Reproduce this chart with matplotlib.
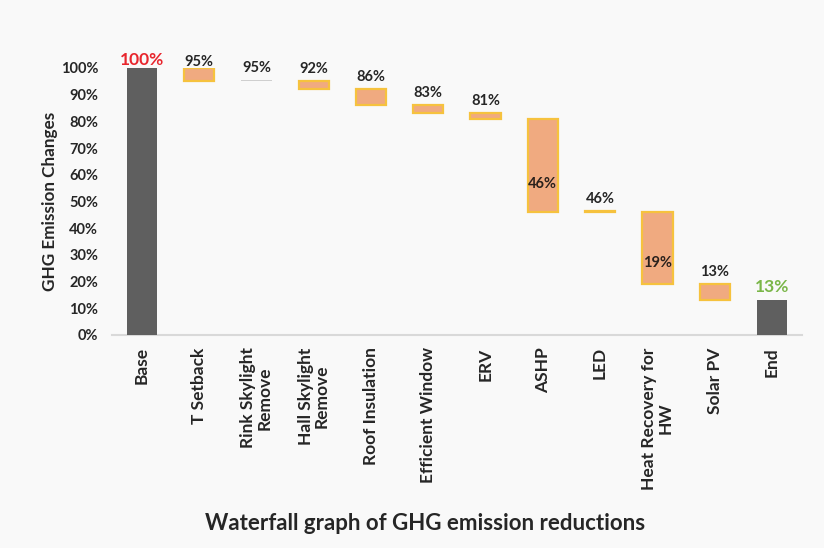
import matplotlib.pyplot as plt
import numpy as np

plt.rcParams['font.family'] = ['Lato', 'DejaVu Sans']

# data
categories = ['Base', 'T Setback', 'Rink Skylight\nRemove', 'Hall Skylight\nRemove',
              'Roof Insulation', 'Efficient Window', 'ERV', 'ASHP', 'LED',
              'Heat Recovery for\nHW', 'Solar PV', 'End']
start_vals = [0, 100, 95.3, 95, 92, 86, 83, 81, 46.3, 46, 19, 0]
end_vals = [100, 95, 95, 92, 86, 83, 81, 46, 46, 19, 13, 13]
labels = ['100%', '95%', '95%', '92%', '86%', '83%', '81%', '46%', '46%', '19%', '13%', '13%']

x = np.arange(len(categories))
bar_w = 0.53

fig = plt.figure(figsize=(8.24, 5.48), dpi=100, facecolor='#f9f9f9')
ax = fig.add_axes([0.136, 0.389, 0.837, 0.487])
ax.set_facecolor('#f9f9f9')

for i in x:
    lo, hi = min(start_vals[i], end_vals[i]), max(start_vals[i], end_vals[i])
    if i == 0 or i == len(x) - 1:
        ax.bar(i, hi - lo, bottom=lo, width=bar_w, color='#5f5f5f', zorder=3)
    elif i == 2:
        ax.bar(i, hi - lo, bottom=lo, width=bar_w, color='#cfcfcf', zorder=3)
    else:
        ax.bar(i, hi - lo, bottom=lo, width=bar_w, color='#f0aa80',
               edgecolor='#f6c23e', linewidth=1.6, zorder=3)

    # labels
    if i in (7, 9):
        ax.text(i, lo + 0.3 * (hi - lo), labels[i], ha='center', va='center',
                fontsize=10.5, fontweight='bold', color='#2a211c', zorder=4)
    elif i == 0:
        ax.annotate(labels[i], (i, hi), xytext=(0, 0), textcoords='offset points',
                    ha='center', va='bottom', fontsize=12.5, fontweight='bold',
                    color='#e8262d', annotation_clip=False)
    elif i == len(x) - 1:
        ax.annotate(labels[i], (i, hi), xytext=(0, 4), textcoords='offset points',
                    ha='center', va='bottom', fontsize=12.5, fontweight='bold',
                    color='#7ab648', annotation_clip=False)
    else:
        off = -1 if i == 1 else 4
        ax.annotate(labels[i], (i, hi), xytext=(0, off), textcoords='offset points',
                    ha='center', va='bottom', fontsize=10.5, fontweight='bold',
                    color='#262626', annotation_clip=False)

ax.set_xlim(-0.52, len(x) - 0.48)
ax.set_ylim(0, 100)
ax.set_yticks(np.arange(0, 101, 10))
ax.set_yticklabels([f'{v}%' for v in range(0, 101, 10)], fontsize=10.5, fontweight='bold', color='#262626')
ax.set_xticks(x)
ax.set_xticklabels(categories, rotation=90, fontsize=12.5, fontweight='bold', color='#262626',
                   va='top', ha='center', linespacing=1.0)
ax.tick_params(axis='both', length=0)
ax.tick_params(axis='y', pad=10)
ax.tick_params(axis='x', pad=9)
for s in ['top', 'right', 'left']:
    ax.spines[s].set_visible(False)
ax.spines['bottom'].set_color('#d9d9d9')
ax.spines['bottom'].set_linewidth(1.5)

ax.set_ylabel('GHG Emission Changes', fontsize=12.3, fontweight='bold', color='#262626', labelpad=2)

fig.text(0.516, 0.044, 'Waterfall graph of GHG emission reductions', ha='center', va='center',
         fontsize=16, fontweight='bold', color='#262626')

fig.savefig('out.png', dpi=100, facecolor=fig.get_facecolor())
